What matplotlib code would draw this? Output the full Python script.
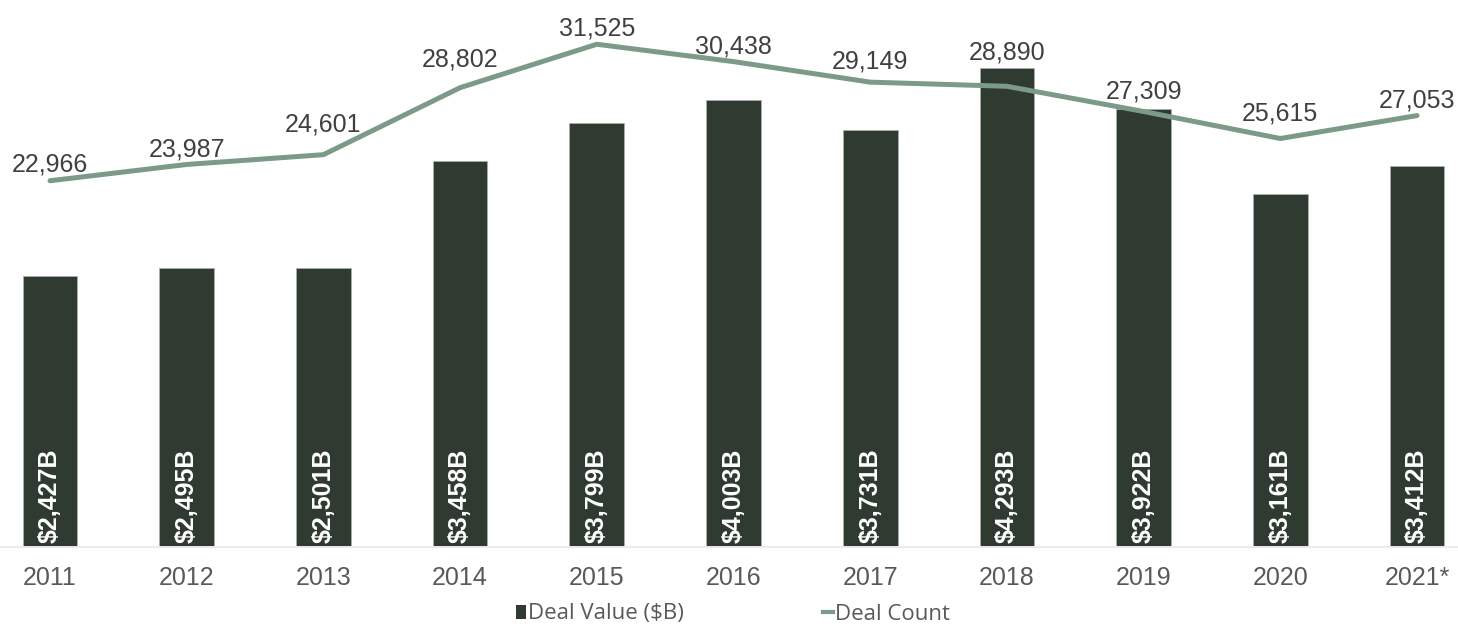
import matplotlib
matplotlib.use("Agg")
import matplotlib.pyplot as plt
from matplotlib.patches import Patch
from matplotlib.lines import Line2D

years = ["2011", "2012", "2013", "2014", "2015", "2016", "2017", "2018", "2019", "2020", "2021*"]
deal_value = [2427, 2495, 2501, 3458, 3799, 4003, 3731, 4293, 3922, 3161, 3412]   # $B
deal_count = [22966, 23987, 24601, 28802, 31525, 30438, 29149, 28890, 27309, 25615, 27053]

# how far (pt) each count label sits above its point
count_label_lift = [6.5, 6, 16.5, 15.5, 6, 5.5, 9.5, 19, 9.5, 13, 6]

BAR_COLOR = "#2f3a30"
LINE_COLOR = "#7b9a87"
TEXT_DARK = "#404040"
TICK_GRAY = "#595959"

plt.rcParams["font.family"] = ["Liberation Sans", "DejaVu Sans"]

fig = plt.figure(figsize=(14.58, 6.24), dpi=100)
ax = fig.add_axes([0, 77 / 624, 1, 547 / 624])
ax2 = ax.twinx()

x = list(range(len(years)))

ax.bar(x, deal_value, width=0.4, color=BAR_COLOR, edgecolor="#a9b0aa", linewidth=0.6, zorder=2)
for xi, v in zip(x, deal_value):
    ax.annotate(f"${v:,}B", (xi, 0), xytext=(0, 3), textcoords="offset points",
                rotation=90, ha="center", va="bottom", color="white",
                fontsize=18, fontweight="bold", zorder=3)

ax2.plot(x, deal_count, color=LINE_COLOR, linewidth=3.6, solid_capstyle="round",
         solid_joinstyle="round", zorder=4)
for xi, c, lift in zip(x, deal_count, count_label_lift):
    ax2.annotate(f"{c:,}", (xi, c), xytext=(0, lift), textcoords="offset points",
                 ha="center", va="baseline", color=TEXT_DARK, fontsize=18, zorder=5)

ymax = 4900
ax.set_ylim(0, ymax)
ax2.set_ylim(0, ymax * 7)
ax.set_xlim(-50 / 136.7, (1458 - 50) / 136.7)

ax.set_xticks(x)
ax.set_xticklabels(years, fontsize=18, color=TICK_GRAY)
ax.tick_params(axis="x", length=0, pad=14)
ax.set_yticks([])
ax2.set_yticks([])
for a in (ax, ax2):
    for side in ("top", "left", "right"):
        a.spines[side].set_visible(False)
ax2.spines["bottom"].set_visible(False)
ax.spines["bottom"].set_color("#ebebeb")
ax.spines["bottom"].set_linewidth(1.4)

handles = [
    Patch(facecolor=BAR_COLOR, edgecolor="none"),
    Line2D([0], [0], color=LINE_COLOR, linewidth=3),
]
fig.legend(handles, ["Deal Value ($B)", "Deal Count"], loc="center",
           bbox_to_anchor=(733 / 1458, 1 - 614 / 624), ncol=2, frameon=False,
           prop={"family": "Open Sans", "size": 16}, labelcolor=TICK_GRAY,
           handlelength=0.45, handleheight=0.6, handletextpad=0.05,
           columnspacing=6.3, borderpad=0, borderaxespad=0)

fig.savefig("out.png", dpi=100)
